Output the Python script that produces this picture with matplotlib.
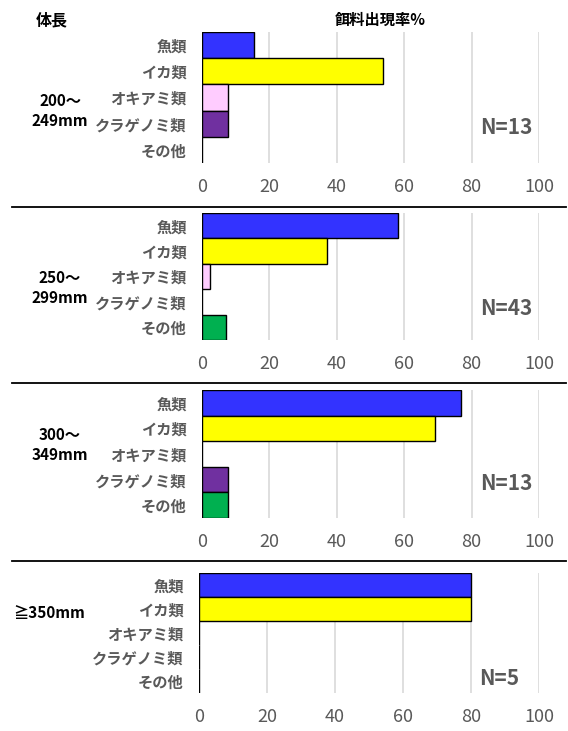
import matplotlib
matplotlib.use('Agg')
import matplotlib.pyplot as plt
from matplotlib.lines import Line2D

plt.rcParams['font.family'] = ['Noto Sans CJK JP', 'DejaVu Sans']

categories = ['魚類', 'イカ類', 'オキアミ類', 'クラゲノミ類', 'その他']
colors = ['#3333FF', '#FFFF00', '#FFCCFF', '#7030A0', '#00B050']

size_labels = ['200～\n249mm', '250～\n299mm', '300～\n349mm', '≧350mm']
n_labels = ['N=13', 'N=43', 'N=13', 'N=5']

# 餌料出現率 (%) per size class, order as categories
rates_200 = [15.4, 53.8, 7.7, 7.7, 0]
rates_250 = [58.1, 37.2, 2.3, 0, 7.0]
rates_300 = [76.9, 69.2, 0, 7.7, 7.7]
rates_350 = [80, 80, 0, 0, 0]
all_rates = [rates_200, rates_250, rates_300, rates_350]

W, H = 568, 731
fig = plt.figure(figsize=(W / 100, H / 100), dpi=100)

# panel boxes in pixels: left, right, top, bottom
boxes = [(202, 539, 32, 163), (202, 539, 213, 340),
         (202, 539, 390, 518), (199, 539, 573, 693)]
size_y = [111, 288, 445, 613]
size_x = [60, 60, 60, 49]
n_y = [0.27, 0.25, 0.27, 0.12]

gray = '#595959'
for i, rates in enumerate(all_rates):
    l, r, t, b = boxes[i]
    ax = fig.add_axes([l / W, 1 - b / H, (r - l) / W, (b - t) / H])
    ypos = list(range(len(categories)))
    ax.barh(ypos, rates, height=1.0, color=colors, edgecolor='black',
            linewidth=1.0, zorder=3)
    ax.set_xlim(0, 100)
    ax.set_ylim(len(categories) - 0.5, -0.5)
    ax.set_xticks([0, 20, 40, 60, 80, 100])
    ax.set_yticks(ypos)
    ax.set_yticklabels(categories, fontsize=11, fontweight='bold', color=gray)
    ax.tick_params(axis='x', length=0, pad=11, labelsize=13, labelcolor=gray)
    ax.tick_params(axis='y', length=0, pad=11)
    ax.grid(axis='x', color='#D9D9D9', linewidth=1.2, zorder=0)
    for s in ax.spines.values():
        s.set_visible(False)
    ax.text(0.825, n_y[i], n_labels[i], transform=ax.transAxes, ha='left',
            va='center', fontsize=15, fontweight='bold', color=gray)
    fig.text(size_x[i] / W, 1 - size_y[i] / H, size_labels[i], ha='center',
             va='center', fontsize=11, fontweight='bold', color='black',
             linespacing=1.3)

fig.text(380 / W, 1 - 20 / H, '餌料出現率%', ha='center', va='center',
         fontsize=11, fontweight='bold')
fig.text(52 / W, 1 - 20 / H, '体長', ha='center', va='center',
         fontsize=11.5, fontweight='bold')

for yy in [207, 383, 561]:
    fig.add_artist(Line2D([12 / W, 566 / W], [1 - yy / H, 1 - yy / H],
                          color='black', linewidth=1.3))

fig.savefig('out.png', dpi=100)
